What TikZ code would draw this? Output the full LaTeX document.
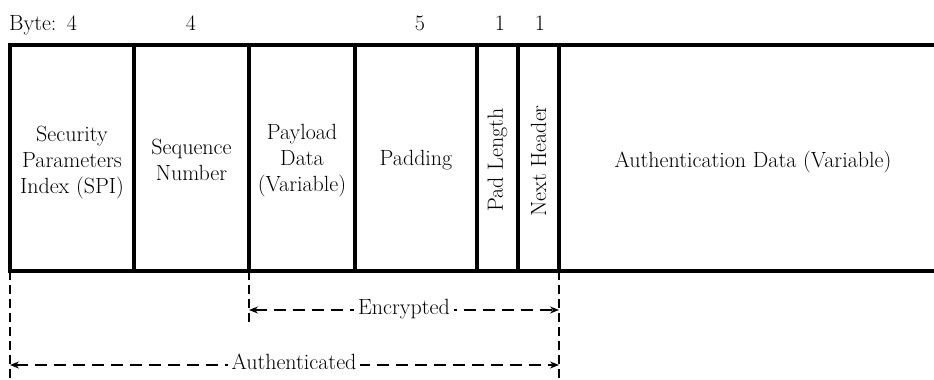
\documentclass[tikz,border=0pt]{standalone}
\usetikzlibrary{arrows.meta}
\begin{document}
\begin{tikzpicture}[x=1pt,y=-1pt,
  frame/.style={line width=3.5pt,line join=miter},
  field/.style={align=center,font=\fontsize{22}{26}\selectfont,inner sep=0pt},
  bytecount/.style={anchor=base,font=\fontsize{22}{26}\selectfont,inner sep=0pt},
  guide/.style={line width=1.4pt,dash pattern=on 9pt off 5pt},
  span/.style={line width=1.4pt,dash pattern=on 12pt off 7pt,
    {Stealth[length=9pt,width=7pt]}-{Stealth[length=9pt,width=7pt]}},
  spanlabel/.style={fill=white,inner sep=4pt,font=\fontsize{22}{26}\selectfont}]
\useasboundingbox (0,0) rectangle (934,380);

% column boundaries of the ESP packet
\coordinate (c0t) at (10,45);   \coordinate (c0b) at (10,271);
\coordinate (c1t) at (134,45);  \coordinate (c1b) at (134,271);
\coordinate (c2t) at (249,45);  \coordinate (c2b) at (249,271);
\coordinate (c3t) at (355,45);  \coordinate (c3b) at (355,271);
\coordinate (c4t) at (477,45);  \coordinate (c4b) at (477,271);
\coordinate (c5t) at (518,45);  \coordinate (c5b) at (518,271);
\coordinate (c6t) at (559,45);  \coordinate (c6b) at (559,271);
\coordinate (endt) at (934,45); \coordinate (endb) at (934,271);

% outer frame, open on the right
\draw[frame] (endt) -- (c0t) -- (c0b) -- (endb);
\foreach \i in {1,...,6} \draw[frame] (c\i t) -- (c\i b);

% byte counts
\node[bytecount,anchor=base west] (bytelbl) at (9,30) {Byte:};
\node[bytecount] (b1) at (72,30) {4};
\node[bytecount] (b2) at (191,30) {4};
\node[bytecount] (b3) at (420,30) {5};
\node[bytecount] (b4) at (500,30) {1};
\node[bytecount] (b5) at (540,30) {1};

% field names
\node[field] (spi) at (72,163) {Security\\Parameters\\Index (SPI)};
\node[field] (seq) at (191.5,160) {Sequence\\Number};
\node[field] (pay) at (302,161) {Payload\\Data\\(Variable)};
\node[field] (pad) at (416,160) {Padding};
\node[field,rotate=90] (padlen) at (497.5,160) {Pad Length};
\node[field,rotate=90] (nxt) at (538.5,161) {Next Header};
\node[field] (auth) at (753,162) {Authentication Data (Variable)};

% extent guides below the packet
\coordinate (g0) at (10,380);
\coordinate (g2) at (249,326);
\coordinate (g6) at (559,380);
\draw[guide] (c0b) -- (g0);
\draw[guide] (c2b) -- (g2);
\draw[guide] (c6b) -- (g6);

% encrypted span
\coordinate (eL) at (249,310);
\coordinate (eR) at (559,310);
\draw[span] (eL) -- (eR);
\node[spanlabel] (enc) at (404,309) {Encrypted};

% authenticated span
\coordinate (aL) at (10,365);
\coordinate (aR) at (559,365);
\draw[span] (aL) -- (aR);
\node[spanlabel] (authd) at (294,362) {Authenticated};
\end{tikzpicture}
\end{document}
